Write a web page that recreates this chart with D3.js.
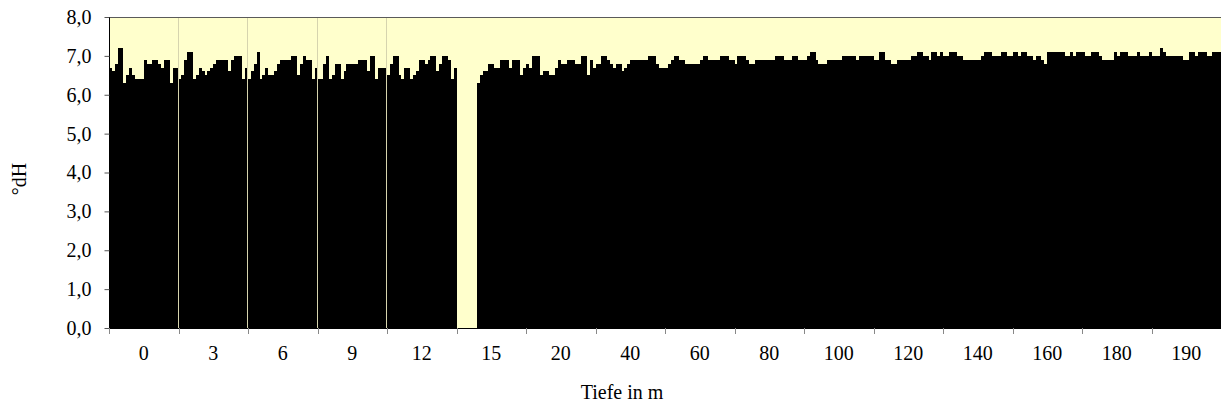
<!DOCTYPE html>
<html>
<head>
<meta charset="utf-8">
<script src="https://cdn.jsdelivr.net/npm/d3@7"></script>
<style>
  html, body { margin: 0; padding: 0; background: #ffffff; }
  svg { display: block; }
  text { font-family: "Liberation Serif", "Times New Roman", serif; fill: #000; }
</style>
</head>
<body>
<svg id="chart" width="1221" height="407"></svg>
<script>
// Depth groups (x-axis category labels)
const depthLabels = ["0","3","6","9","12","15","20","40","60","80","100","120","140","160","180","190"];

// pH readings per depth group (24 readings each, null = no reading)
const ph_0   = [6.7,6.6,6.8,7.2,7.2,6.3,6.5,6.7,6.5,6.4,6.4,6.4,6.9,6.8,6.8,6.9,6.9,6.8,6.7,6.9,6.9,6.3,6.7,6.7];
const ph_3   = [6.4,6.5,6.9,7.1,7.1,6.4,6.5,6.7,6.6,6.5,6.6,6.7,6.8,6.9,6.9,6.9,6.9,6.6,6.9,7.0,7.0,7.0,6.4,6.7];
const ph_6   = [6.4,6.6,6.8,7.1,6.4,6.5,6.7,6.5,6.5,6.6,6.8,6.9,6.9,6.9,6.9,7.0,7.0,6.5,6.8,7.0,6.9,6.9,6.4,6.7];
const ph_9   = [6.4,6.4,6.8,7.0,6.4,6.5,6.8,6.8,6.4,6.6,6.8,6.8,6.8,6.8,6.9,6.9,6.9,6.6,7.0,7.0,6.4,6.7,6.7,6.7];
const ph_12  = [6.5,6.8,7.0,7.0,6.5,6.4,6.7,6.7,6.4,6.5,6.6,6.9,6.9,6.8,6.9,7.0,7.0,6.6,6.8,7.0,7.0,6.9,6.4,6.7];
const ph_15  = [null,null,null,null,null,null,null,6.3,6.5,6.6,6.6,6.8,6.8,6.7,6.7,6.9,6.9,6.9,6.7,6.9,6.9,6.9,6.5,6.7];
const ph_20  = [6.8,6.7,7.0,7.0,7.0,6.5,6.6,6.6,6.5,6.5,6.7,6.9,6.8,6.8,6.9,6.9,6.9,6.8,6.8,7.0,7.0,6.5,6.9,6.7];
const ph_40  = [6.8,6.8,7.0,7.0,6.9,6.8,6.7,6.8,6.8,6.6,6.7,6.8,6.9,6.9,6.9,6.9,6.9,6.9,7.0,7.0,7.0,6.8,6.7,6.7];
const ph_60  = [6.7,6.8,6.9,7.0,7.0,6.9,6.9,6.8,6.8,6.8,6.8,6.8,6.9,7.0,7.0,6.9,6.9,6.9,6.9,7.0,7.0,7.0,6.9,6.9];
const ph_80  = [6.8,7.0,7.0,7.0,6.9,6.8,6.8,6.9,6.9,6.9,6.9,6.9,6.9,6.9,7.0,7.0,7.0,6.9,6.9,6.9,7.0,7.0,6.9,6.9];
const ph_100 = [6.9,7.0,7.1,7.1,6.9,6.8,6.8,6.8,6.9,6.9,6.9,6.9,6.9,7.0,7.0,7.0,7.0,7.0,6.9,7.0,7.0,7.0,7.0,7.0];
const ph_120 = [6.9,6.9,7.1,7.1,6.9,6.9,6.8,6.8,6.9,6.9,6.9,6.9,6.9,7.0,7.0,7.1,7.1,7.0,7.0,6.9,7.1,7.1,7.0,7.1];
const ph_140 = [7.0,7.0,7.1,7.1,7.1,7.0,7.0,6.9,6.9,6.9,6.9,6.9,6.9,7.0,7.1,7.1,7.1,7.0,7.0,7.0,7.1,7.1,7.0,7.0];
const ph_160 = [7.1,7.1,7.0,7.1,7.1,7.0,7.0,6.9,7.0,7.0,6.9,6.8,7.1,7.1,7.1,7.1,7.1,7.1,7.0,7.0,7.1,7.0,7.1,7.1];
const ph_180 = [7.1,7.0,7.0,7.1,7.1,7.1,7.0,6.9,6.9,6.9,6.9,7.1,7.0,7.1,7.1,7.1,7.0,7.0,7.0,7.1,7.0,7.0,7.0,7.1];
const ph_190 = [7.0,7.0,7.0,7.2,7.1,7.0,7.0,7.0,7.0,7.0,7.0,6.9,6.9,7.1,7.1,7.0,7.1,7.1,7.1,7.0,7.0,7.1,7.1,7.1];

// Groups before which a thin separator is visible
const separatorGroups = ["3","6","9","12"];

const yTicks = [0,1,2,3,4,5,6,7,8];

const groups = [ph_0,ph_3,ph_6,ph_9,ph_12,ph_15,ph_20,ph_40,ph_60,ph_80,ph_100,ph_120,ph_140,ph_160,ph_180,ph_190];

// ---- build flat series ----
const series = [];
groups.forEach((arr, gi) => {
  arr.forEach((v) => series.push({ idx: series.length, group: depthLabels[gi], value: v }));
});

const svg = d3.select("#chart");
const pLeft = 109, pRight = 1221, pTop = 17, pBottom = 328;

const x = d3.scaleBand().domain(series.map(d => d.idx)).range([pLeft, pRight]).padding(0);
const xg = d3.scaleBand().domain(depthLabels).range([pLeft, pRight]).padding(0);
const y = d3.scaleLinear().domain([0, 8]).range([pBottom, pTop]);

// plot background
svg.append("rect")
  .attr("x", pLeft).attr("y", pTop)
  .attr("width", pRight - pLeft).attr("height", pBottom - pTop)
  .attr("fill", "#FFFFCC");

// top border
svg.append("line")
  .attr("x1", pLeft).attr("x2", pRight)
  .attr("y1", pTop + 0.5).attr("y2", pTop + 0.5)
  .attr("stroke", "#5a5a5a").attr("stroke-width", 1);

// bars
svg.append("g").attr("shape-rendering", "crispEdges")
  .selectAll("rect")
  .data(series.filter(d => d.value != null))
  .join("rect")
  .attr("x", d => x(d.idx))
  .attr("y", d => y(d.value))
  .attr("width", x.bandwidth())
  .attr("height", d => y(0) - y(d.value))
  .attr("fill", "#000000");

// thin separators between early depth groups
svg.append("g")
  .selectAll("line")
  .data(separatorGroups)
  .join("line")
  .attr("x1", d => Math.round(xg(d)) - 0.5)
  .attr("x2", d => Math.round(xg(d)) - 0.5)
  .attr("y1", pTop + 1)
  .attr("y2", pBottom)
  .attr("stroke", "#d6d4ae").attr("stroke-width", 1);

// y axis
const yAxis = svg.append("g")
  .attr("transform", `translate(${pLeft + 0.5},0)`)
  .call(d3.axisLeft(y).tickValues(yTicks).tickSize(5).tickPadding(13)
        .tickFormat(d => d.toFixed(1).replace(".", ",")));
yAxis.select(".domain").attr("stroke", "#000").attr("d", `M0,${pTop}V${pBottom}`);
yAxis.selectAll(".tick line").attr("stroke", "#555");
yAxis.selectAll("text").style("font-size", "20px").style("font-family", "'Liberation Serif', serif");

// x axis baseline
svg.append("line")
  .attr("x1", pLeft).attr("x2", pRight)
  .attr("y1", pBottom + 0.5).attr("y2", pBottom + 0.5)
  .attr("stroke", "#000");

// x group boundary ticks
const boundaries = depthLabels.map(d => xg(d)).concat([pRight]);
svg.append("g")
  .selectAll("line")
  .data(boundaries)
  .join("line")
  .attr("x1", d => Math.round(d) + 0.5)
  .attr("x2", d => Math.round(d) + 0.5)
  .attr("y1", pBottom).attr("y2", pBottom + 6)
  .attr("stroke", "#888");

// x labels
const xAxis = svg.append("g")
  .attr("transform", `translate(0,${pBottom})`)
  .call(d3.axisBottom(xg).tickSize(0).tickPadding(18));
xAxis.select(".domain").remove();
xAxis.selectAll("text").style("font-size", "20px").style("font-family", "'Liberation Serif', serif");

// axis titles
svg.append("text")
  .attr("x", 622).attr("y", 399)
  .attr("text-anchor", "middle")
  .style("font-size", "20px")
  .text("Tiefe in m");

svg.append("text")
  .attr("transform", "translate(19,179) rotate(-90)")
  .attr("text-anchor", "middle")
  .attr("dominant-baseline", "central")
  .style("font-size", "20px")
  .text("°dH");
</script>
</body>
</html>
